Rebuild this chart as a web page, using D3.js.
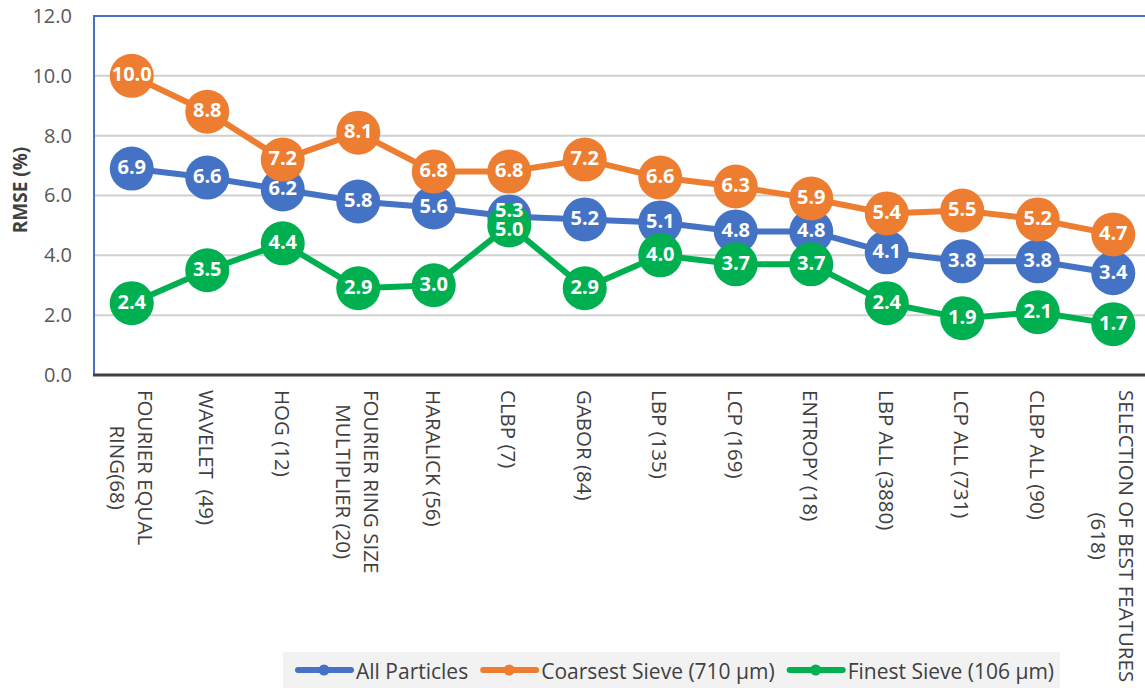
<!DOCTYPE html>
<html>
<head>
<meta charset="utf-8">
<script src="https://cdn.jsdelivr.net/npm/d3@7"></script>
<style>
  html, body { margin: 0; padding: 0; background: #ffffff; }
  svg { display: block; font-family: "Open Sans", "Liberation Sans", sans-serif; }
</style>
</head>
<body>
<svg id="chart" width="1145" height="688"></svg>
<script>
// Feature sets (x axis), "\n" marks a line break in the label
const categories = [
  "FOURIER EQUAL\nRING(68)",
  "WAVELET  (49)",
  "HOG (12)",
  "FOURIER RING SIZE\nMULTIPLIER (20)",
  "HARALICK (56)",
  "CLBP (7)",
  "GABOR (84)",
  "LBP (135)",
  "LCP (169)",
  "ENTROPY (18)",
  "LBP ALL (3880)",
  "LCP ALL (731)",
  "CLBP ALL (90)",
  "SELECTION OF BEST FEATURES\n(618)"
];

// RMSE (%) per feature set
const allParticles  = [6.9, 6.6, 6.2, 5.8, 5.6, 5.3, 5.2, 5.1, 4.8, 4.8, 4.1, 3.8, 3.8, 3.4];
const coarsestSieve = [10.0, 8.8, 7.2, 8.1, 6.8, 6.8, 7.2, 6.6, 6.3, 5.9, 5.4, 5.5, 5.2, 4.7];
const finestSieve   = [2.4, 3.5, 4.4, 2.9, 3.0, 5.0, 2.9, 4.0, 3.7, 3.7, 2.4, 1.9, 2.1, 1.7];

const seriesNames  = ["All Particles", "Coarsest Sieve (710 µm)", "Finest Sieve (106 µm)"];
const seriesColors = ["#4472C4", "#ED7D31", "#00B050"];
const yTicks = [0, 2, 4, 6, 8, 10, 12];

const series = [allParticles, coarsestSieve, finestSieve].map((values, i) => ({
  name: seriesNames[i], color: seriesColors[i], values
}));

const svg = d3.select("#chart");
const plot = { left: 94, right: 1151, top: 16, bottom: 375 };

const x = d3.scaleBand().domain(categories).range([plot.left, plot.right]).padding(0);
const cx = c => x(c) + x.bandwidth() / 2;
const y = d3.scaleLinear().domain([0, 12]).range([plot.bottom, plot.top]);

// horizontal gridlines
svg.append("g")
  .selectAll("line")
  .data(yTicks.filter(t => t > 0 && t < 12))
  .join("line")
  .attr("x1", plot.left).attr("x2", 1145)
  .attr("y1", d => y(d)).attr("y2", d => y(d))
  .attr("stroke", "#d0d0d0").attr("stroke-width", 2);

// plot border: top and left in blue
svg.append("line")
  .attr("x1", plot.left).attr("x2", 1145)
  .attr("y1", y(12)).attr("y2", y(12))
  .attr("stroke", "#4472C4").attr("stroke-width", 2);
svg.append("line")
  .attr("x1", plot.left).attr("x2", plot.left)
  .attr("y1", y(12) - 1).attr("y2", plot.bottom)
  .attr("stroke", "#4472C4").attr("stroke-width", 2);

// y axis
const yAxis = d3.axisLeft(y).tickValues(yTicks).tickFormat(d3.format(".1f")).tickSize(0).tickPadding(22);
const yg = svg.append("g").attr("transform", `translate(${plot.left},0)`).call(yAxis);
yg.select(".domain").remove();
yg.selectAll("text")
  .attr("font-family", "'Open Sans', sans-serif")
  .attr("font-size", 20)
  .attr("fill", "#595959");

// x axis baseline
svg.append("line")
  .attr("x1", plot.left - 1).attr("x2", 1145)
  .attr("y1", plot.bottom).attr("y2", plot.bottom)
  .attr("stroke", "#404040").attr("stroke-width", 3);

// y axis title
svg.append("text")
  .attr("transform", `translate(20,190) rotate(-90)`)
  .attr("text-anchor", "middle")
  .attr("dominant-baseline", "central")
  .attr("font-size", 19)
  .attr("font-weight", "bold")
  .attr("fill", "#404040")
  .text("RMSE (%)");

// x tick labels, rotated to read top-down, block top-aligned under the axis
const lineGap = 28;
const xLabels = svg.append("g");
categories.forEach(cat => {
  const lines = cat.split("\n");
  const g = xLabels.append("g")
    .attr("transform", `translate(${cx(cat)},${plot.bottom + 15}) rotate(90)`);
  const texts = lines.map((ln, i) => g.append("text")
    .attr("y", (i - (lines.length - 1) / 2) * lineGap)
    .attr("dominant-baseline", "central")
    .attr("text-anchor", "middle")
    .attr("font-size", 20.5)
    .attr("fill", "#404040")
    .style("white-space", "pre")
    .text(ln));
  const maxLen = d3.max(texts, t => t.node().getComputedTextLength());
  texts.forEach(t => t.attr("x", maxLen / 2));
});

// lines and markers
const line = d3.line().x((d, i) => cx(categories[i])).y(d => y(d));
series.forEach(s => {
  const g = svg.append("g");
  g.append("path")
    .datum(s.values)
    .attr("d", line)
    .attr("fill", "none")
    .attr("stroke", s.color)
    .attr("stroke-width", 6)
    .attr("stroke-linejoin", "round");
  g.selectAll("circle")
    .data(s.values)
    .join("circle")
    .attr("cx", (d, i) => cx(categories[i]))
    .attr("cy", d => y(d))
    .attr("r", 22)
    .attr("fill", s.color);
});

// value labels on top of all markers; labels that would collide
// within one category are pushed apart vertically
const labelH = 19;
const labelY = series.map(s => s.values.map(v => y(v) - 2));
categories.forEach((c, i) => {
  const order = d3.range(series.length).sort((a, b) => labelY[a][i] - labelY[b][i]);
  for (let k = 1; k < order.length; k++) {
    const up = order[k - 1], dn = order[k];
    const gap = labelY[dn][i] - labelY[up][i];
    if (gap < labelH) {
      const shift = (labelH - gap) / 2;
      labelY[up][i] -= shift;
      labelY[dn][i] += shift;
    }
  }
});
series.forEach((s, si) => {
  svg.append("g")
    .selectAll("text")
    .data(s.values)
    .join("text")
    .attr("x", (d, i) => cx(categories[i]))
    .attr("y", (d, i) => labelY[si][i])
    .attr("text-anchor", "middle")
    .attr("dominant-baseline", "central")
    .attr("font-size", 20)
    .attr("font-weight", "bold")
    .attr("fill", "#ffffff")
    .text(d => d3.format(".1f")(d));
});

// legend
const legend = svg.append("g");
legend.append("rect")
  .attr("x", 283).attr("y", 652)
  .attr("width", 777).attr("height", 36)
  .attr("fill", "#f2f2f2");
let lx = 298;
const ly = 670;
series.forEach(s => {
  legend.append("line")
    .attr("x1", lx).attr("x2", lx + 53)
    .attr("y1", ly).attr("y2", ly)
    .attr("stroke", s.color).attr("stroke-width", 6)
    .attr("stroke-linecap", "round");
  legend.append("circle")
    .attr("cx", lx + 26).attr("cy", ly).attr("r", 5.5).attr("fill", s.color);
  const t = legend.append("text")
    .attr("x", lx + 58).attr("y", ly + 1)
    .attr("dominant-baseline", "central")
    .attr("font-size", 21)
    .attr("fill", "#404040")
    .text(s.name);
  lx = lx + 58 + t.node().getComputedTextLength() + 15;
});
</script>
</body>
</html>
